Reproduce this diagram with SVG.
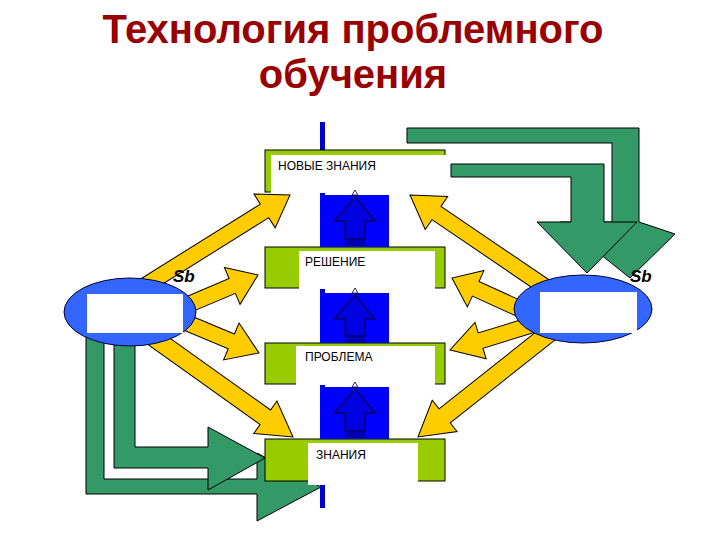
<svg xmlns="http://www.w3.org/2000/svg" width="720" height="540" viewBox="0 0 720 540">
<style>
.title{font-family:"Liberation Sans",Arial,sans-serif;font-weight:bold;font-size:40px;fill:#990000;text-anchor:middle}
.lbl{font-family:"Liberation Sans",Arial,sans-serif;font-size:12px;fill:#000}
.sb{font-family:"Liberation Sans",Arial,sans-serif;font-weight:bold;font-style:italic;font-size:17px;fill:#000}
.ya{fill:#FFCC00;stroke:#000;stroke-width:1;stroke-linejoin:miter}
.ga{fill:#339966;stroke:#000;stroke-width:1}
.gbox{fill:#99CC00;stroke:#000;stroke-width:1}
.wbox{fill:#fff}
.ell{fill:#3366FF;stroke:#000033;stroke-width:1}
.sq{fill:#0000FF}
.ua{fill:#0000E0;stroke:#000066;stroke-width:1.5}
.st{stroke:#000066;stroke-width:1}
.tip{fill:#fff;stroke:#000;stroke-width:0.8}
</style>
<rect width="720" height="540" fill="#fff"/>
<text class="title" x="353" y="43">Технология проблемного</text>
<text class="title" x="353" y="88">обучения</text>

<g id="connectors">
  <g id="green-arrows">
    <polygon class="ga" points="407,128 639,128 639,222 675,234 630,278 560,222 612,222 612,143 407,143"/>
    <polygon class="ga" points="451,164 604,164 604,222 637,222 587,273 537,222 571,222 571,177 451,177"/>
    <polygon class="ga" points="86,330 104,330 104,479 257,479 257,453 321,487 257,521 257,494 86,494"/>
    <polygon class="ga" points="114,330 135,330 135,447 208,447 208,427 265,458 208,490 208,468 114,468"/>
  </g>
  <g id="yellow-arrows">
    <polygon class="ya" transform="translate(290,195) rotate(-32)" points="-175,-8 -30,-8 -30,-20 0,0 -30,20 -30,8 -175,8"/>
    <polygon class="ya" transform="translate(258,275) rotate(-23)" points="-86,-8 -28,-8 -28,-20 0,0 -28,20 -28,8 -86,8"/>
    <polygon class="ya" transform="translate(259,353) rotate(22.7)" points="-91,-8 -30,-8 -30,-20 0,0 -30,20 -30,8 -91,8"/>
    <polygon class="ya" transform="translate(293,437) rotate(35.5)" points="-187,-9 -34,-9 -34,-20 0,0 -34,20 -34,9 -187,9"/>
    <polygon class="ya" transform="translate(410,195) rotate(214.2)" points="-175,-8 -32,-8 -32,-20 0,0 -32,20 -32,8 -175,8"/>
    <polygon class="ya" transform="translate(452,278) rotate(204.5)" points="-86,-8 -26,-8 -26,-20 0,0 -26,20 -26,8 -86,8"/>
    <polygon class="ya" transform="translate(450,350) rotate(162.9)" points="-89,-8 -32,-8 -32,-19 0,0 -32,19 -32,8 -89,8"/>
    <polygon class="ya" transform="translate(418,437) rotate(141.6)" points="-188,-9 -34,-9 -34,-20 0,0 -34,20 -34,9 -188,9"/>
  </g>
  <rect id="axis" x="320" y="122" width="5" height="386" fill="#0000CC"/>
</g>

<g id="left-node">
  <ellipse class="ell" cx="130" cy="312" rx="66" ry="34"/>
  <rect class="wbox" x="87" y="294" width="96" height="39"/>
  <text class="sb" x="173" y="282">Sb</text>
</g>
<g id="right-node">
  <ellipse class="ell" cx="583" cy="309" rx="69" ry="34"/>
  <rect class="wbox" x="540" y="292" width="97" height="41"/>
  <text class="sb" x="630" y="282">Sb</text>
</g>

<g id="box-new-knowledge">
  <rect class="gbox" x="265" y="150" width="180" height="42"/>
  <rect class="wbox" x="271" y="155" width="179" height="38"/>
  <text class="lbl" x="278" y="170">НОВЫЕ ЗНАНИЯ</text>
</g>
<g id="box-solution">
  <rect class="gbox" x="265" y="247" width="180" height="41"/>
  <rect class="wbox" x="299" y="251" width="136" height="38"/>
  <text class="lbl" x="305" y="266">РЕШЕНИЕ</text>
</g>
<g id="box-problem">
  <rect class="gbox" x="265" y="343" width="180" height="41"/>
  <rect class="wbox" x="296" y="346" width="139" height="39"/>
  <text class="lbl" x="305" y="361">ПРОБЛЕМА</text>
</g>
<g id="box-knowledge">
  <rect class="gbox" x="265" y="439" width="180" height="42"/>
  <rect class="wbox" x="308" y="443" width="110" height="42"/>
  <text class="lbl" x="316" y="459">ЗНАНИЯ</text>
</g>

<g id="up-1">
  <rect class="sq" x="320" y="195" width="69" height="52"/>
  <polygon class="ua" points="355,197 375,221 365,221 365,239 345,239 345,221 334,221"/>
  <path class="st" d="M345,241H365M345,243H365M345,245H365"/>
  <polygon class="tip" points="352,195 355,190 358,195"/>
</g>
<g id="up-2">
  <rect class="sq" x="320" y="293" width="69" height="50"/>
  <polygon class="ua" points="355,295 375,319 365,319 365,336 345,336 345,319 334,319"/>
  <path class="st" d="M345,338H365M345,340H365M345,342H365"/>
  <polygon class="tip" points="352,293 355,288 358,293"/>
</g>
<g id="up-3">
  <rect class="sq" x="320" y="387" width="69" height="52"/>
  <polygon class="ua" points="355,389 375,413 365,413 365,431 345,431 345,413 334,413"/>
  <path class="st" d="M345,433H365M345,435H365M345,437H365"/>
  <polygon class="tip" points="352,387 355,382 358,387"/>
</g>
</svg>
